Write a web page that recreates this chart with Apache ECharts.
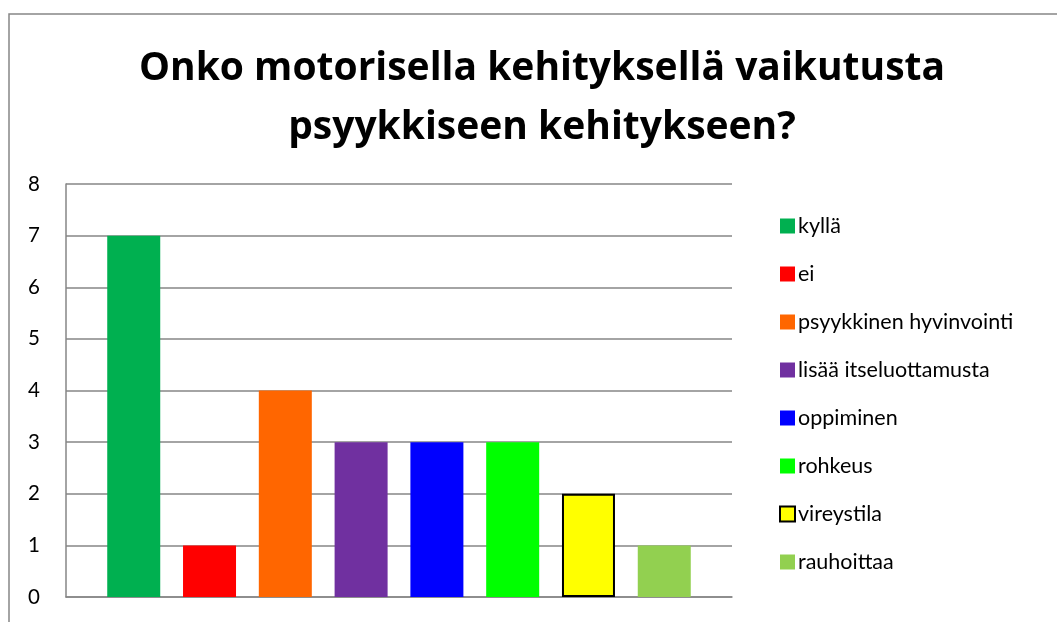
<!DOCTYPE html>
<html>
<head>
<meta charset="utf-8">
<script src="https://cdn.jsdelivr.net/npm/echarts@6/dist/echarts.min.js"></script>
<style>
html,body{margin:0;padding:0;background:#fff;}
#chart{width:1057px;height:622px;}
</style>
</head>
<body>
<div id="chart"></div>
<script>
const titleLines = ['Onko motorisella kehityksellä vaikutusta', 'psyykkiseen kehitykseen?'];
const seriesNames = ['kyllä', 'ei', 'psyykkinen hyvinvointi', 'lisää itseluottamusta', 'oppiminen', 'rohkeus', 'vireystila', 'rauhoittaa'];
const seriesValues = [7, 1, 4, 3, 3, 3, 2, 1];
const palette = ['#00B050', '#FF0000', '#FF6600', '#7030A0', '#0000FF', '#00FF00', '#FFFF00', '#92D050'];
const yMin = 0, yMax = 8, yStep = 1;

const chart = echarts.init(document.getElementById('chart'), null, {renderer: 'canvas'});
const gray = '#868686';
const series = seriesNames.map((name, i) => ({
  name: name,
  type: 'bar',
  data: [seriesValues[i]],
  barWidth: 53,
  barGap: '43%',
  itemStyle: name === 'vireystila'
    ? {color: palette[i], borderColor: '#000', borderWidth: 2}
    : {color: palette[i]},
  emphasis: {disabled: true}
}));

chart.setOption({
  animation: false,
  backgroundColor: '#fff',
  title: {
    text: titleLines.join('\n'),
    left: 537,
    textAlign: 'center',
    top: 34,
    textStyle: {fontFamily: 'Open Sans', fontWeight: 'bold', fontSize: 39, lineHeight: 59, color: '#000'}
  },
  graphic: [{
    type: 'rect',
    shape: {x: 9, y: 14, width: 1060, height: 620},
    style: {fill: 'none', stroke: gray, lineWidth: 1.5},
    silent: true
  }],
  legend: {
    orient: 'vertical',
    left: 774,
    top: 209,
    itemWidth: 15,
    itemHeight: 15,
    itemGap: 24,
    icon: 'rect',
    data: seriesNames,
    textStyle: {fontFamily: 'Lato', fontSize: 21.5, color: '#000', padding: [0, 0, 0, -2], lineHeight: 24}
  },
  grid: {left: 66, right: 325, top: 184, bottom: 25, containLabel: false},
  xAxis: {
    type: 'category',
    data: [''],
    axisLine: {show: true, lineStyle: {color: gray, width: 1.5}},
    axisTick: {show: false},
    axisLabel: {show: false}
  },
  yAxis: {
    type: 'value',
    min: yMin, max: yMax, interval: yStep,
    axisLine: {show: true, lineStyle: {color: gray, width: 1.5}},
    axisTick: {show: false},
    splitLine: {show: true, lineStyle: {color: gray, width: 1.5}},
    axisLabel: {fontFamily: 'Lato', fontSize: 20.5, color: '#000', margin: 26}
  },
  series: series
});
</script>
</body>
</html>
